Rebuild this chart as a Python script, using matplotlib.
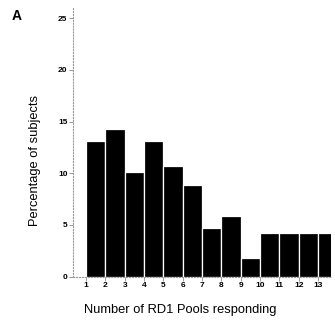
import matplotlib
matplotlib.use("Agg")
import matplotlib.pyplot as plt

plt.rcParams['font.family'] = ['Liberation Sans', 'DejaVu Sans']

# number of RD1 pools responding and % of subjects
pools = [1, 2, 3, 4, 5, 6, 7, 8, 9, 10, 11, 12, 13]
percent = [13.1, 14.3, 10.1, 13.1, 10.7, 8.9, 4.7, 5.9, 1.8, 4.2, 4.2, 4.2, 4.2]
yticks = [0, 5, 10, 15, 20, 25]

fig = plt.figure(figsize=(3.35, 3.28), dpi=100)
ax = fig.add_axes([0.218, 0.157, 0.77, 0.819])

ax.bar(pools, percent, width=1.0, align='edge', color='black',
       edgecolor='white', linewidth=0.9)

ax.set_xlim(0.33, 13.67)
ax.set_ylim(0, 26)
ax.set_xticks(pools)
ax.set_xticklabels([str(p) for p in pools], fontsize=6, fontweight='bold')
ax.set_yticks(yticks)
ax.set_yticklabels([str(t) for t in yticks], fontsize=6, fontweight='bold')
ax.tick_params(axis='both', length=3, width=0.6, color='#888888', pad=1)

for side in ['top', 'right']:
    ax.spines[side].set_visible(False)
for side in ['left', 'bottom']:
    ax.spines[side].set_color('#999999')
    ax.spines[side].set_linestyle(':')
    ax.spines[side].set_linewidth(0.8)

ax.set_ylabel('Percentage of subjects', fontsize=9.3)
ax.yaxis.set_label_coords(-0.147, 0.43)
ax.set_xlabel('Number of RD1 Pools responding', fontsize=9.3)
ax.xaxis.set_label_coords(0.415, -0.125)
ax.xaxis.label.set_va('center')
ax.yaxis.label.set_va('center')

fig.text(0.036, 0.94, 'A', fontsize=10, fontweight='bold')

fig.savefig('out.png', dpi=100)
